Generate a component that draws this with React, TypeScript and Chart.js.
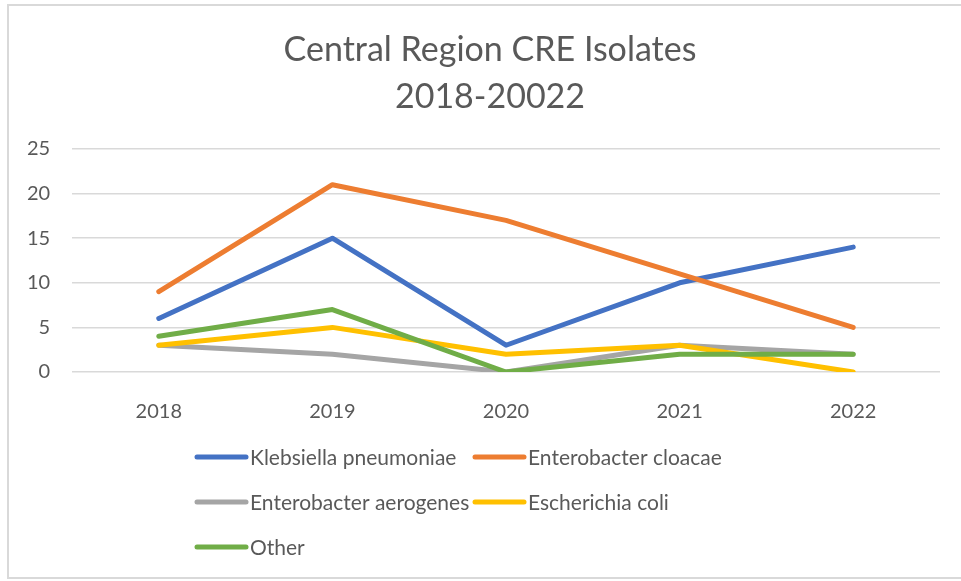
import React, { useEffect, useRef } from 'react';
import { Chart, registerables } from 'chart.js';

Chart.register(...registerables);

const categories = ['2018', '2019', '2020', '2021', '2022'];
const klebsiella = [6, 15, 3, 10, 14];
const cloacae = [9, 21, 17, 11, 5];
const aerogenes = [3, 2, 0, 3, 2];
const ecoli = [3, 5, 2, 3, 0];
const other = [4, 7, 0, 2, 2];
const seriesNames = ['Klebsiella pneumoniae', 'Enterobacter cloacae', 'Enterobacter aerogenes', 'Escherichia coli', 'Other'];
const seriesColors = ['#4472C4', '#ED7D31', '#A5A5A5', '#FFC000', '#70AD47'];
const seriesValues = [klebsiella, cloacae, aerogenes, ecoli, other];
const yMin = 0;
const yMax = 25;
const yStep = 5;
const titleLines = ['Central Region CRE Isolates', '2018-20022'];

const FONT = 'Lato, "Open Sans", sans-serif';
const TEXT = '#595959';

const gridLegend = {
  id: 'gridLegend',
  afterDraw(chart: any) {
    const ctx = chart.ctx;
    const colX = [195, 473];
    const rowY0 = 457;
    const rowGap = 45;
    ctx.save();
    ctx.font = `21px ${FONT}`;
    ctx.textBaseline = 'middle';
    ctx.textAlign = 'left';
    chart.data.datasets.forEach((ds: any, i: number) => {
      const x = colX[i % 2];
      const y = rowY0 + Math.floor(i / 2) * rowGap;
      ctx.strokeStyle = ds.borderColor;
      ctx.lineWidth = 5;
      ctx.lineCap = 'round';
      ctx.beginPath();
      ctx.moveTo(x + 2, y);
      ctx.lineTo(x + 51, y);
      ctx.stroke();
      ctx.fillStyle = TEXT;
      ctx.fillText(ds.label, x + 55, y + 1);
    });
    ctx.restore();
  },
};

export default function App() {
  const ref = useRef<HTMLCanvasElement>(null);
  useEffect(() => {
    if (!ref.current) return;
    const chart = new Chart(ref.current, {
      type: 'line',
      data: {
        labels: categories,
        datasets: seriesValues.map((vals, i) => ({
          label: seriesNames[i],
          data: vals,
          borderColor: seriesColors[i],
          backgroundColor: seriesColors[i],
          borderWidth: 5,
          pointRadius: 0,
          pointHoverRadius: 0,
          tension: 0,
          borderCapStyle: 'round' as const,
          borderJoinStyle: 'round' as const,
          order: -i,
        })),
      },
      options: {
        responsive: false,
        animation: false,
        layout: { padding: { top: 0, left: 40, right: 21, bottom: 159 } },
        plugins: {
          legend: { display: false },
          tooltip: { enabled: false },
          title: {
            display: true,
            text: titleLines,
            color: TEXT,
            font: { family: FONT, size: 34, weight: 'normal', lineHeight: 47 / 34 },
            padding: { top: 27, bottom: 28 },
          },
        },
        scales: {
          x: {
            offset: true,
            grid: { display: false },
            border: { display: false },
            ticks: { color: TEXT, font: { family: FONT, size: 20 }, padding: 20 },
            afterFit: (s: any) => { s.height = 50; },
          },
          y: {
            min: yMin,
            max: yMax,
            grid: { color: '#d9d9d9', lineWidth: 1.6, drawTicks: false },
            border: { display: false },
            ticks: {
              stepSize: yStep,
              color: TEXT,
              font: { family: FONT, size: 20 },
              mirror: true,
              crossAlign: 'far',
              padding: -45,
            },
            afterFit: (s: any) => { s.width = 32; },
          },
        },
      },
      plugins: [gridLegend],
    });
    return () => chart.destroy();
  }, []);
  return (
    <div style={{ position: 'fixed', left: 0, top: 0, width: 961, height: 581, background: '#fff', overflow: 'hidden' }}>
      <div style={{ position: 'absolute', left: 7, top: 4, width: 1000, height: 575, border: '2px solid #d9d9d9', boxSizing: 'border-box' }} />
      <canvas ref={ref} width={961} height={581} style={{ position: 'absolute', left: 0, top: 0 }} />
    </div>
  );
}
